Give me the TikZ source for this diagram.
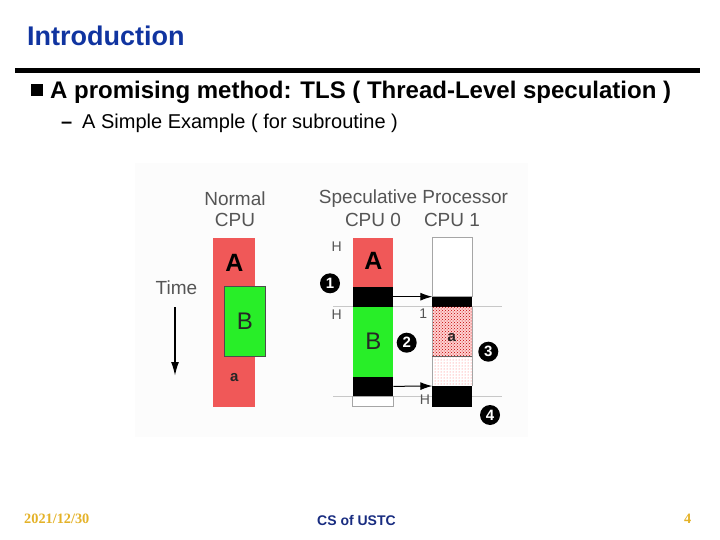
\documentclass[tikz,border=0pt]{standalone}
\usepackage{fontspec}
\setmainfont{Liberation Sans}
\newfontfamily\serifb{Liberation Serif}
\usetikzlibrary{arrows.meta,patterns}
\definecolor{titleblue}{RGB}{16,52,160}
\definecolor{footblue}{RGB}{24,44,128}
\definecolor{gold}{RGB}{228,178,40}
\definecolor{cpured}{RGB}{240,88,88}
\definecolor{cpugreen}{RGB}{40,238,40}
\definecolor{txtgrey}{RGB}{85,85,85}
\definecolor{linegrey}{RGB}{200,200,200}
\definecolor{bgfaint}{RGB}{252,252,252}
\begin{document}
\begin{tikzpicture}[x=1pt,y=-1pt,
  blk/.style={inner sep=0, outer sep=0, anchor=north west},
  lbl/.style={inner sep=0, text=txtgrey, font=\fontsize{19}{22}\selectfont},
  hlbl/.style={inner sep=0, text=txtgrey, font=\fontsize{14}{16}\selectfont},
  num/.style={circle, fill=black, inner sep=0, minimum size=20pt, text=white, font=\fontsize{15}{16}\selectfont\bfseries},
  arr/.style={-{Latex[length=12pt,width=8pt]}, line width=1pt},
  bigA/.style={inner sep=0, font=\fontsize{25}{28}\selectfont\bfseries},
  bigB/.style={inner sep=0, text=black!85, font=\fontsize{24}{28}\selectfont},
  smalla/.style={inner sep=0, font=\fontsize{15}{16}\selectfont\bfseries, text=black!85}
]
\useasboundingbox (0,0) rectangle (720,540);
% header
\node[anchor=base west, inner sep=0, text=titleblue, font=\fontsize{27}{32}\selectfont\bfseries] (title) at (27,46) {Introduction};
\fill (15,68) rectangle (700,73);
\fill (31,84) rectangle (43,96);
\node[anchor=base west, inner sep=0, font=\fontsize{24}{28}\selectfont\bfseries] (main) at (50,99) {A promising method: TLS ( Thread-Level speculation )};
\node[anchor=base west, inner sep=0, font=\fontsize{20}{24}\selectfont\bfseries] (dash) at (61,129) {–};
\node[anchor=base west, inner sep=0, font=\fontsize{20}{24}\selectfont] (sub) at (82,129) {A Simple Example ( for subroutine )};
% footer
\node[anchor=base west, inner sep=0, text=gold, font=\serifb\fontsize{14.3}{16}\selectfont\bfseries] (date) at (24,523) {2021/12/30};
\node[anchor=base west, inner sep=0, text=footblue, font=\fontsize{14}{16}\selectfont\bfseries] (org) at (317,525) {CS of USTC};
\node[anchor=base west, inner sep=0, text=gold, font=\serifb\fontsize{14.3}{16}\selectfont\bfseries] (page) at (684,523) {4};
% diagram background
\fill[bgfaint] (135,163) rectangle (528,437);
% headings
\node[lbl] (normal) at (235,199) {Normal};
\node[lbl] (ncpu) at (235,220) {CPU};
\node[lbl] (spec) at (413.5,199) {Speculative Processor};
\node[lbl] (cpu0) at (373,220) {CPU 0};
\node[lbl] (cpu1) at (452,220) {CPU 1};
% time arrow
\node[lbl] (time) at (176.5,288) {Time};
\coordinate (t0) at (175,307);
\coordinate (t1) at (175,376);
\draw[-{Latex[length=14pt,width=8pt]}, line width=1.8pt] (t0) -- (t1);
% normal CPU
\node[blk, fill=cpured, minimum width=41.7pt, minimum height=169pt] (nA) at (213.3,237.7) {};
\node[blk, fill=cpugreen, draw=black!70, line width=0.6pt, minimum width=41pt, minimum height=70pt] (nB) at (224,286.7) {};
\node[bigA] (nAl) at (234.3,262.5) {A};
\node[bigB] (nBl) at (245,321.5) {B};
\node[smalla] (nal) at (234.3,377.5) {a};
% grey guide lines
\draw[linegrey, line width=0.8pt] (333,306.7) -- (501.7,306.7);
\draw[linegrey, line width=0.8pt] (333,396) -- (501.7,396);
% CPU 0
\node[blk, fill=cpured, minimum width=40.6pt, minimum height=49pt] (c0A) at (352.7,237.7) {};
\node[blk, fill=black, minimum width=40.6pt, minimum height=20pt] (c0k1) at (352.7,286.7) {};
\node[blk, fill=cpugreen, minimum width=40.6pt, minimum height=70pt] (c0B) at (352.7,306.7) {};
\node[blk, fill=black, minimum width=40.6pt, minimum height=19.3pt] (c0k2) at (352.7,376.7) {};
\node[blk, fill=white, draw=black!35, line width=0.6pt, minimum width=40.6pt, minimum height=10.7pt] (c0w) at (352.7,396) {};
\node[bigA] (c0Al) at (373.3,261) {A};
\node[bigB] (c0Bl) at (373.3,341.5) {B};
% CPU 1
\node[blk, fill=white, draw=black!35, line width=0.6pt, minimum width=40pt, minimum height=59pt] (c1w) at (432.3,237.7) {};
\node[blk, fill=black, minimum width=40pt, minimum height=10pt] (c1k1) at (432.3,296.7) {};
\node[blk, fill=red!18, postaction={pattern=crosshatch dots, pattern color=red!75!black}, minimum width=40pt, minimum height=50pt] (c1a) at (432.3,306.7) {};
\node[blk, fill=white, postaction={pattern=dots, pattern color=red!60}, minimum width=40pt, minimum height=29.3pt] (c1b) at (432.3,356.7) {};
\node[blk, fill=black, minimum width=40pt, minimum height=20.7pt] (c1k2) at (432.3,386) {};
\draw[black!35, line width=0.6pt] (c1a.north west) -- (c1b.south west);
\draw[black!35, line width=0.6pt] (c1a.north east) -- (c1b.south east);
\draw[black!60, line width=0.6pt] (c1a.south west) -- (c1a.south east);
\node[smalla] (c1al) at (451.7,337.5) {a};
% labels
\node[hlbl] (h1) at (336.7,246.7) {H};
\node[hlbl] (h2) at (336.7,315) {H};
\node[hlbl] (one) at (423.3,313.3) {1};
\node[hlbl] (h3) at (425,400) {H};
% arrows
\draw[arr] (c0k1.east) -- (c1k1.north west);
\draw[arr] (c0k2.east) -- (c1k2.north west);
% numbered markers
\node[num] (m1) at (330,283.3) {1};
\node[num] (m2) at (406.7,342.7) {2};
\node[num] (m3) at (488.3,351.7) {3};
\node[num] (m4) at (490,415) {4};
\end{tikzpicture}
\end{document}
